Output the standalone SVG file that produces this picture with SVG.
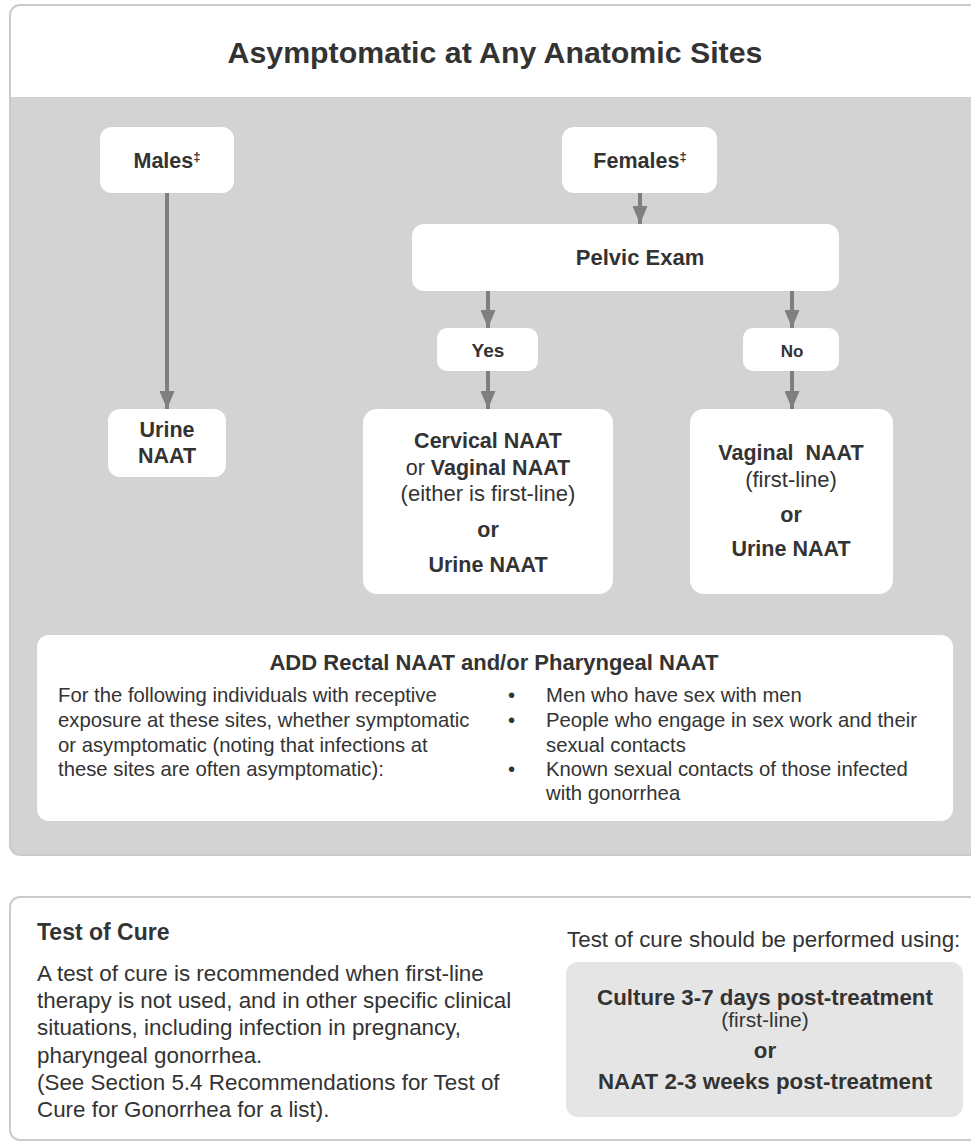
<svg xmlns="http://www.w3.org/2000/svg" width="971" height="1141" viewBox="0 0 971 1141">
<style>
  text { font-family: "Liberation Sans", Arial, sans-serif; fill: #333333; }
  .b { font-weight: bold; }
  .c { text-anchor: middle; }
  .node { fill: #ffffff; }
  .conn { stroke: #7f7f7f; stroke-width: 4; fill: none; }
  .n21 { font-size: 21.5px; }
  .p20 { font-size: 20.3px; }
  .p22 { font-size: 22.4px; }
</style>
<defs>
  <marker id="ah" markerUnits="userSpaceOnUse" markerWidth="18" markerHeight="15" refX="18" refY="7.5" orient="auto">
    <path d="M0,0 L18,7.5 L0,15 Z" fill="#7f7f7f"/>
  </marker>
</defs>
<rect width="971" height="1141" fill="#ffffff"/>

<!-- top panel -->
<g id="panel-top">
  <rect x="10" y="5" width="1000" height="850" rx="10" fill="#d4d3d4"/>
  <path d="M10,97 V15 Q10,5 20,5 H1010 V97 Z" fill="#ffffff"/>
  <rect x="10" y="5" width="1000" height="850" rx="10" fill="none" stroke="#cbcbcb" stroke-width="2"/>
  <text class="b c" x="495" y="63" font-size="30.3">Asymptomatic at Any Anatomic Sites</text>
</g>

<g id="connectors">
  <line class="conn" x1="167" y1="193" x2="167" y2="409" marker-end="url(#ah)"/>
  <line class="conn" x1="640" y1="193" x2="640" y2="224" marker-end="url(#ah)"/>
  <line class="conn" x1="488" y1="291" x2="488" y2="328" marker-end="url(#ah)"/>
  <line class="conn" x1="792" y1="291" x2="792" y2="328" marker-end="url(#ah)"/>
  <line class="conn" x1="488" y1="371" x2="488" y2="409" marker-end="url(#ah)"/>
  <line class="conn" x1="792" y1="371" x2="792" y2="409" marker-end="url(#ah)"/>
</g>

<g id="males">
  <rect class="node" x="100" y="127" width="134" height="66" rx="12"/>
  <text class="b c n21" x="167" y="168">Males<tspan font-size="13" dy="-7">‡</tspan></text>
</g>

<g id="females">
  <rect class="node" x="562" y="127" width="155" height="66" rx="12"/>
  <text class="b c n21" x="640" y="168">Females<tspan font-size="13" dy="-7">‡</tspan></text>
</g>

<g id="pelvic">
  <rect class="node" x="412" y="224" width="427" height="67" rx="12"/>
  <text class="b c" x="640" y="265" font-size="22">Pelvic Exam</text>
</g>

<g id="yes">
  <rect class="node" x="437" y="328" width="101" height="43" rx="10"/>
  <text class="b c" x="488" y="357" font-size="19">Yes</text>
</g>

<g id="no">
  <rect class="node" x="743" y="328" width="96" height="43" rx="10"/>
  <text class="b c" x="792" y="357" font-size="17">No</text>
</g>

<g id="urine-males">
  <rect class="node" x="108" y="409" width="118" height="68" rx="12"/>
  <text class="b c n21" x="167" y="437">Urine</text>
  <text class="b c n21" x="167" y="463">NAAT</text>
</g>

<g id="cervical">
  <rect class="node" x="363" y="409" width="250" height="185" rx="14"/>
  <text class="b c n21" x="488" y="448">Cervical NAAT</text>
  <text class="c n21" x="488" y="475">or <tspan class="b">Vaginal NAAT</tspan></text>
  <text class="c" x="488" y="501" font-size="22">(either is first-line)</text>
  <text class="b c n21" x="488" y="537">or</text>
  <text class="b c n21" x="488" y="572">Urine NAAT</text>
</g>

<g id="vaginal">
  <rect class="node" x="690" y="409" width="203" height="185" rx="14"/>
  <text class="b c n21" x="791" y="460" style="white-space:pre">Vaginal  NAAT</text>
  <text class="c" x="791" y="487" font-size="22">(first-line)</text>
  <text class="b c n21" x="791" y="522">or</text>
  <text class="b c n21" x="791" y="556">Urine NAAT</text>
</g>

<g id="add-rectal">
  <rect class="node" x="37" y="635" width="916" height="186" rx="12"/>
  <text class="b c" x="494" y="670" font-size="22">ADD Rectal NAAT and/or Pharyngeal NAAT</text>
  <text class="p20" x="58" y="702">For the following individuals with receptive</text>
  <text class="p20" x="58" y="727">exposure at these sites, whether symptomatic</text>
  <text class="p20" x="58" y="752">or asymptomatic (noting that infections at</text>
  <text class="p20" x="58" y="776">these sites are often asymptomatic):</text>
  <text class="p20" x="508" y="702">•</text>
  <text class="p20" x="546" y="702">Men who have sex with men</text>
  <text class="p20" x="508" y="727">•</text>
  <text class="p20" x="546" y="727">People who engage in sex work and their</text>
  <text class="p20" x="546" y="752">sexual contacts</text>
  <text class="p20" x="508" y="776">•</text>
  <text class="p20" x="546" y="776">Known sexual contacts of those infected</text>
  <text class="p20" x="546" y="800">with gonorrhea</text>
</g>

<g id="test-of-cure">
  <rect x="10" y="897" width="1000" height="243" rx="10" fill="#ffffff" stroke="#cbcbcb" stroke-width="2"/>
  <text class="b" x="37" y="940" font-size="23">Test of Cure</text>
  <text class="p22" x="37" y="981">A test of cure is recommended when first-line</text>
  <text class="p22" x="37" y="1008">therapy is not used, and in other specific clinical</text>
  <text class="p22" x="37" y="1035">situations, including infection in pregnancy,</text>
  <text class="p22" x="37" y="1063">pharyngeal gonorrhea.</text>
  <text class="p22" x="37" y="1090">(See Section 5.4 Recommendations for Test of</text>
  <text class="p22" x="37" y="1117">Cure for Gonorrhea for a list).</text>
  <text class="p22" x="567" y="947">Test of cure should be performed using:</text>
</g>

<g id="cure-methods">
  <rect x="566" y="962" width="397" height="155" rx="12" fill="#e6e5e6"/>
  <text class="b c" x="765" y="1005" font-size="22.3">Culture 3-7 days post-treatment</text>
  <text class="c" x="765" y="1027" font-size="21">(first-line)</text>
  <text class="b c" x="765" y="1058" font-size="22.3">or</text>
  <text class="b c" x="765" y="1089" font-size="22.3">NAAT 2-3 weeks post-treatment</text>
</g>
</svg>
